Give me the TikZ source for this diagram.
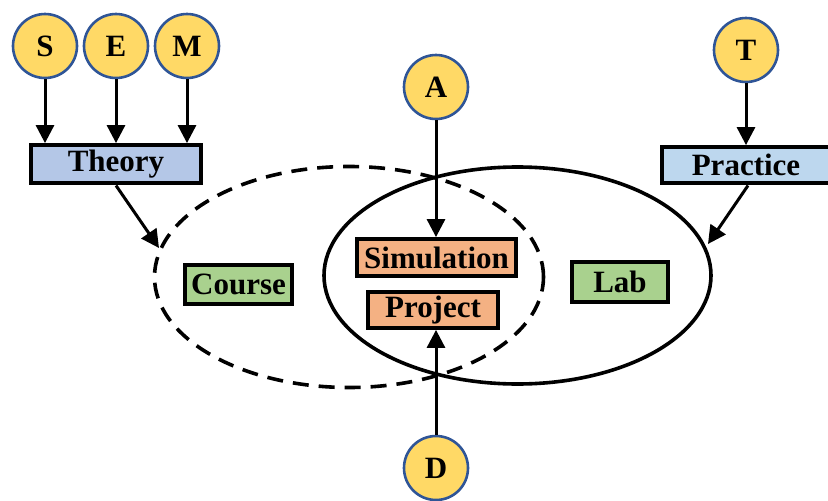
\documentclass[tikz,border=0pt]{standalone}
\usepackage{fontspec}
\setmainfont{Liberation Serif}
\usetikzlibrary{arrows.meta}
\definecolor{letterfill}{HTML}{FFD966}
\definecolor{letterline}{HTML}{2F5597}
\definecolor{theoryfill}{HTML}{B4C7E7}
\definecolor{practicefill}{HTML}{BDD7EE}
\definecolor{placefill}{HTML}{A9D18E}
\definecolor{taskfill}{HTML}{F4B183}
\tikzset{
  letter/.style={circle, draw=letterline, line width=2.6pt, fill=letterfill,
    minimum size=64pt, inner sep=0pt, font=\fontsize{31}{36}\selectfont\bfseries},
  box/.style={draw=black, line width=3.8pt, inner sep=0pt,
    font=\fontsize{31}{36}\selectfont\bfseries},
  link/.style={line width=3pt, -{Triangle[length=18pt,width=18pt]}},
  region/.style={line width=3.6pt},
  dashregion/.style={line width=3.6pt, dash pattern=on 16pt off 10pt},
}
\begin{document}
\begin{tikzpicture}[x=1pt,y=-1pt]
\useasboundingbox (0,0) rectangle (828,501);
% overlapping regions
\draw[dashregion] (349,277) ellipse [x radius=194.5pt, y radius=110.5pt];
\draw[region] (517.5,275.5) ellipse [x radius=193.5pt, y radius=108.5pt];
% letter circles
\node[letter] (S) at (45,46) {S};
\node[letter] (E) at (116,46) {E};
\node[letter] (M) at (187,46) {M};
\node[letter] (T) at (746,50) {T};
\node[letter] (A) at (436,87) {A};
\node[letter] (D) at (436,468) {D};
% boxes
\node[box, fill=theoryfill, minimum width=170pt, minimum height=38pt] (theory) at (116,164) {Theory};
\node[box, fill=practicefill, minimum width=168pt, minimum height=36pt] (practice) at (746,165) {Practice};
\node[box, fill=taskfill, minimum width=159pt, minimum height=37pt] (sim) at (436.5,257.5) {Simulation};
\node[box, fill=taskfill, minimum width=130pt, minimum height=36pt] (proj) at (433,310) {Project};
\node[box, fill=placefill, minimum width=107pt, minimum height=39pt] (course) at (238.5,284.5) {Course};
\node[box, fill=placefill, minimum width=96pt, minimum height=40pt] (lab) at (620,282) {Lab};
% arrow ends on the region outlines
\coordinate (theorytip) at (159,248);
\coordinate (practicetip) at (708,244);
\coordinate (theorystart) at (116,185.5);
\coordinate (practicestart) at (748,185.5);
% connectors
\draw[link] (S.south) -- (S.south |- theory.north);
\draw[link] (E.south) -- (E.south |- theory.north);
\draw[link] (M.south) -- (M.south |- theory.north);
\draw[link] (T.south) -- (T.south |- practice.north);
\draw[link] (A.south) -- (A.south |- sim.north);
\draw[link] (D.north) -- (D.north |- proj.south);
\draw[link] (theorystart) -- (theorytip);
\draw[link] (practicestart) -- (practicetip);
\end{tikzpicture}
\end{document}
